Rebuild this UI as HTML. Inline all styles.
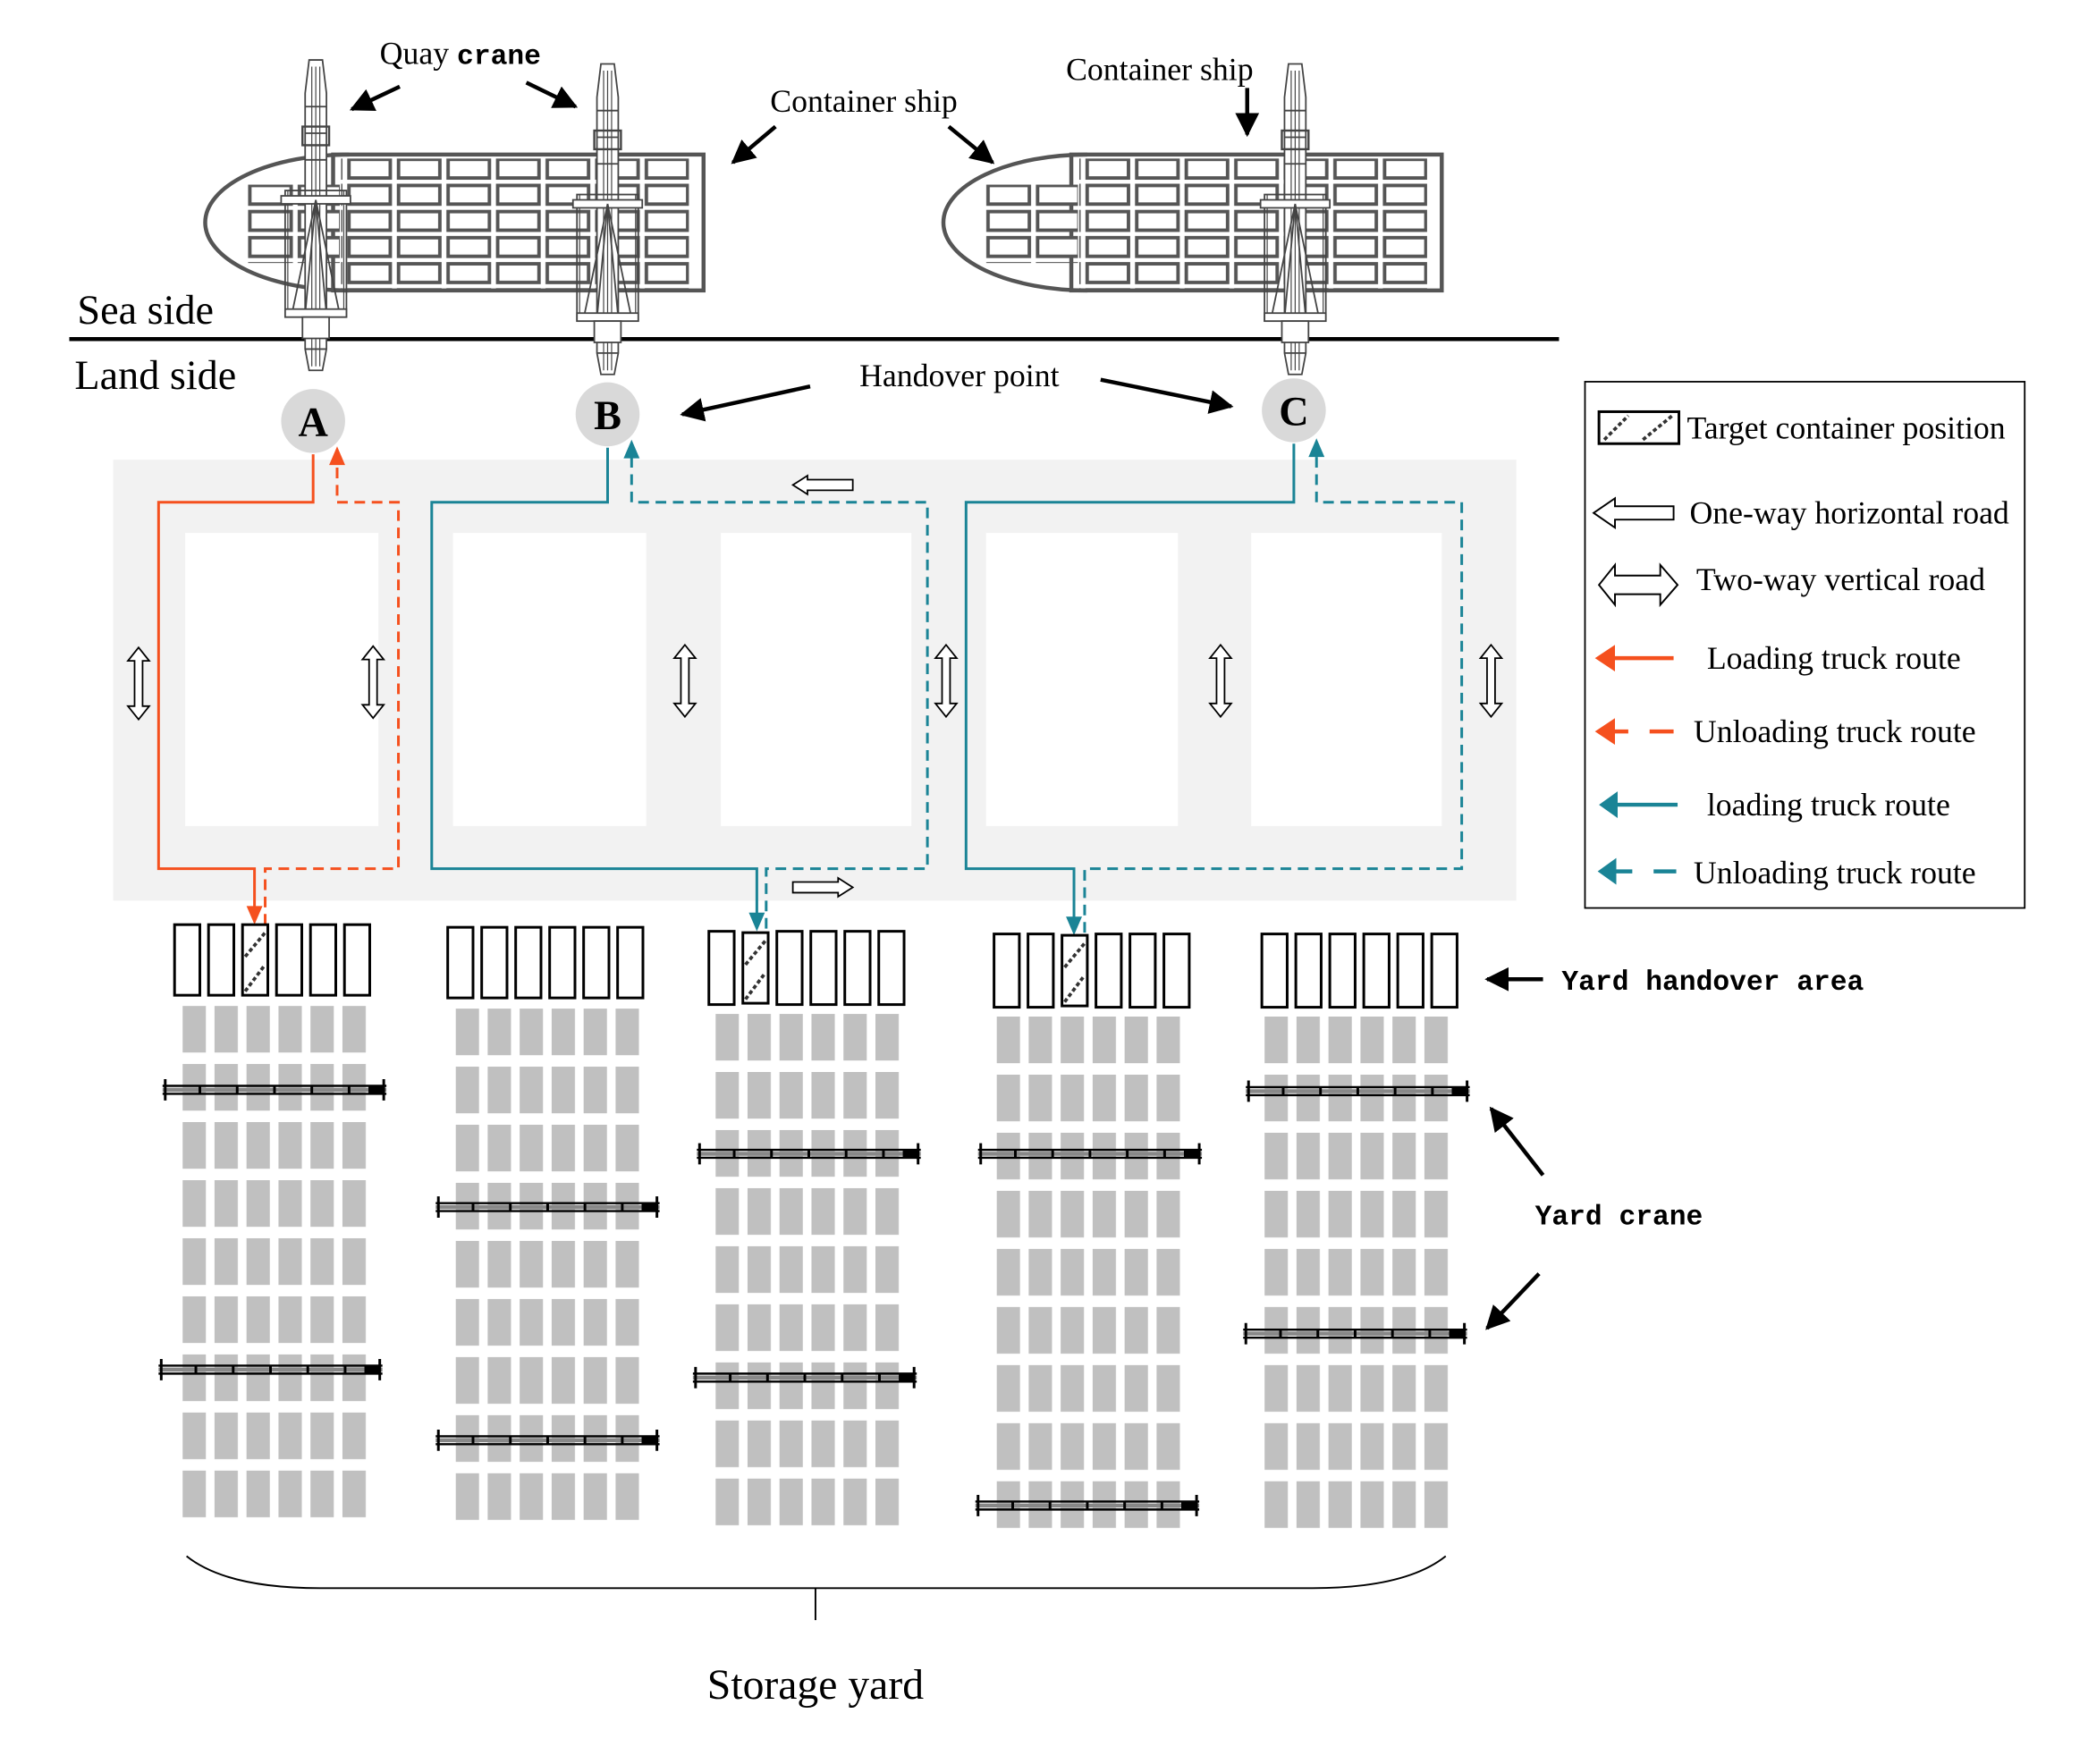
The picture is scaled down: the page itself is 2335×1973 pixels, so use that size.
<!DOCTYPE html>
<html><head><meta charset="utf-8"><style>html,body{margin:0;padding:0;background:#fff}svg{display:block}</style></head>
<body>
<svg width="2335" height="1973" viewBox="0 0 1567 1324" preserveAspectRatio="none" xmlns="http://www.w3.org/2000/svg" font-family="'Liberation Serif',serif">
<defs>
<pattern id="cont" x="0" y="0" width="37.2" height="19.6" patternUnits="userSpaceOnUse">
<rect x="1.5" y="2" width="31" height="14" fill="#fff" stroke="#555" stroke-width="2.6"/>
</pattern>
<pattern id="gray1" x="137" y="755" width="24" height="43.6" patternUnits="userSpaceOnUse"><rect x="0" y="0" width="17.5" height="35" fill="#c0c0c0"/></pattern>
<pattern id="gray2" x="342" y="757" width="24" height="43.6" patternUnits="userSpaceOnUse"><rect x="0" y="0" width="17.5" height="35" fill="#c0c0c0"/></pattern>
<pattern id="gray3" x="537" y="761" width="24" height="43.6" patternUnits="userSpaceOnUse"><rect x="0" y="0" width="17.5" height="35" fill="#c0c0c0"/></pattern>
<pattern id="gray4" x="748" y="763" width="24" height="43.6" patternUnits="userSpaceOnUse"><rect x="0" y="0" width="17.5" height="35" fill="#c0c0c0"/></pattern>
<pattern id="gray5" x="949" y="763" width="24" height="43.6" patternUnits="userSpaceOnUse"><rect x="0" y="0" width="17.5" height="35" fill="#c0c0c0"/></pattern>
<g id="crane" stroke="#444" fill="#fff" stroke-width="1.2">
<path d="M-5 45 L5 45 L8 70 L8 262 L5 278 L-5 278 L-8 262 L-8 70 Z"/>
<path d="M-3 50 V275 M0 50 V275 M3 50 V275" fill="none" stroke-width="0.8"/>
<path d="M-8 80 H8 M-8 100 H8 M-8 120 H8 M-8 262 H8" fill="none"/>
<rect x="-10" y="95" width="20" height="14" fill="none" stroke-width="1.6"/>
<rect x="-23" y="143" width="46" height="95" fill="none"/>
<rect x="-21" y="143" width="42" height="93" fill="none" stroke-width="0.8"/>
<rect x="-26" y="147" width="52" height="6"/>
<path d="M0 150 L-18 236 M0 150 L18 236 M0 150 L-8 236 M0 150 L8 236" fill="none"/>
<rect x="-23" y="232" width="46" height="6"/>
<rect x="-10" y="238" width="20" height="16"/>
</g>
<g id="ycrane" stroke="#000" fill="none">
<path d="M0 -3 H168 M0 3 H168" stroke-width="1.6"/>
<path d="M0 0 H168" stroke="#888" stroke-width="3"/>
<path d="M2 -8 V8 M166 -8 V8 M28 -3 V3 M56 -3 V3 M84 -3 V3 M112 -3 V3 M140 -3 V3" stroke-width="2"/>
<rect x="155" y="-3" width="10" height="6" fill="#000"/>
</g>
<g id="hatch"><rect x="0" y="0" width="19" height="53" fill="#fff" stroke="#000" stroke-width="2"/><path d="M2 24 L17 6 M2 50 L17 30" stroke="#333" stroke-width="2.5" stroke-dasharray="3 2"/></g>
<g id="vdbl" fill="#fff" stroke="#000" stroke-width="1.2"><path d="M0 -27 L8 -17 L3 -17 L3 17 L8 17 L0 27 L-8 17 L-3 17 L-3 -17 L-8 -17 Z"/></g>
<marker id="ah" viewBox="0 0 10 10" refX="9" refY="5" markerWidth="6" markerHeight="6" orient="auto"><path d="M0 0 L10 5 L0 10 Z" fill="#000"/></marker>
</defs>

<line x1="52" y1="254.5" x2="1170" y2="254.5" stroke="#000" stroke-width="3"/>
<text x="58" y="243" font-size="31">Sea side</text>
<text x="56" y="292" font-size="31">Land side</text>

<path d="M262 116 A108 51 0 0 0 262 218" fill="none" stroke="#555" stroke-width="3"/>
<rect x="250" y="116" width="278" height="102" fill="none" stroke="#555" stroke-width="3"/>
<rect x="256" y="119" width="261" height="98" fill="url(#cont)"/>
<rect x="185" y="138.6" width="70" height="58.8" fill="url(#cont)"/>
<path d="M816 116 A108 51 0 0 0 816 218" fill="none" stroke="#555" stroke-width="3"/>
<rect x="804" y="116" width="278" height="102" fill="none" stroke="#555" stroke-width="3"/>
<g transform="translate(554,0)"><rect x="256" y="119" width="261" height="98" fill="url(#cont)"/><rect x="185" y="138.6" width="70" height="58.8" fill="url(#cont)"/></g>

<use href="#crane" x="237" y="0"/>
<use href="#crane" x="456" y="3"/>
<use href="#crane" x="972" y="3"/>

<text x="285" y="48" font-size="24">Quay <tspan font-family="'Liberation Mono',monospace" font-weight="bold" font-size="21">crane</tspan></text>
<g stroke="#000" stroke-width="3" marker-end="url(#ah)">
<line x1="300" y1="65" x2="264" y2="82"/>
<line x1="395" y1="62" x2="432" y2="80"/>
<line x1="582" y1="95" x2="550" y2="122"/>
<line x1="712" y1="95" x2="745" y2="122"/>
<line x1="936" y1="66" x2="936" y2="101"/>
<line x1="608" y1="290" x2="512" y2="311"/>
<line x1="826" y1="285" x2="924" y2="305"/>
<line x1="1158" y1="735" x2="1116" y2="735"/>
<line x1="1158" y1="882" x2="1119" y2="832"/>
<line x1="1155" y1="956" x2="1116" y2="997"/>
</g>
<text x="578" y="84" font-size="24">Container ship</text>
<text x="800" y="60" font-size="24">Container ship</text>
<text x="645" y="290" font-size="24">Handover point</text>

<rect x="85" y="345" width="1053" height="331" fill="#f2f2f2"/>
<g fill="#fff">
<rect x="139" y="400" width="145" height="220"/>
<rect x="340" y="400" width="145" height="220"/>
<rect x="541" y="400" width="143" height="220"/>
<rect x="740" y="400" width="144" height="220"/>
<rect x="939" y="400" width="143" height="220"/>
</g>

<g fill="#d9d9d9"><circle cx="235" cy="316" r="24"/><circle cx="456" cy="311" r="24"/><circle cx="971" cy="308" r="24"/></g>
<g font-size="31" font-weight="bold" text-anchor="middle"><text x="235" y="327">A</text><text x="456" y="322">B</text><text x="971" y="319">C</text></g>

<g fill="none" stroke-width="2">
<path d="M235 341 V377 H119 V652 H191 V684" stroke="#f5501e"/>
<path d="M199 694 V652 H299 V377 H253 V346" stroke="#f5501e" stroke-dasharray="8 5"/>
<path d="M456 336 V377 H324 V652 H568 V688" stroke="#1a8496"/>
<path d="M575 697 V652 H696 V377 H474 V341" stroke="#1a8496" stroke-dasharray="8 5"/>
<path d="M971 333 V377 H725 V652 H806 V691" stroke="#1a8496"/>
<path d="M814 700 V652 H1097 V377 H988 V340" stroke="#1a8496" stroke-dasharray="8 5"/>
</g>
<g>
<path d="M185 680 L197 680 L191 694 Z" fill="#f5501e"/>
<path d="M247 349 L259 349 L253 335 Z" fill="#f5501e"/>
<path d="M562 685 L574 685 L568 699 Z" fill="#1a8496"/>
<path d="M468 344 L480 344 L474 330 Z" fill="#1a8496"/>
<path d="M800 688 L812 688 L806 702 Z" fill="#1a8496"/>
<path d="M982 343 L994 343 L988 329 Z" fill="#1a8496"/>
</g>

<use href="#vdbl" x="104" y="513"/><use href="#vdbl" x="280" y="512"/><use href="#vdbl" x="514" y="511"/>
<use href="#vdbl" x="710" y="511"/><use href="#vdbl" x="916" y="511"/><use href="#vdbl" x="1119" y="511"/>
<path d="M595 364 L606 357 L606 360 L640 360 L640 368 L606 368 L606 371 Z" fill="#fff" stroke="#000" stroke-width="1.2"/>
<path d="M640 666 L629 659 L629 662 L595 662 L595 670 L629 670 L629 673 Z" fill="#fff" stroke="#000" stroke-width="1.2"/>

<g fill="#fff" stroke="#000" stroke-width="2">
<rect x="131" y="694" width="19" height="53"/><rect x="156.5" y="694" width="19" height="53"/><rect x="207.5" y="694" width="19" height="53"/><rect x="233" y="694" width="19" height="53"/><rect x="258.5" y="694" width="19" height="53"/>
<rect x="336" y="696" width="19" height="53"/><rect x="361.5" y="696" width="19" height="53"/><rect x="387" y="696" width="19" height="53"/><rect x="412.5" y="696" width="19" height="53"/><rect x="438" y="696" width="19" height="53"/><rect x="463.5" y="696" width="19" height="53"/>
<rect x="532" y="699" width="19" height="55"/><rect x="583" y="699" width="19" height="55"/><rect x="608.5" y="699" width="19" height="55"/><rect x="634" y="699" width="19" height="55"/><rect x="659.5" y="699" width="19" height="55"/>
<rect x="746" y="701" width="19" height="55"/><rect x="771.5" y="701" width="19" height="55"/><rect x="822.5" y="701" width="19" height="55"/><rect x="848" y="701" width="19" height="55"/><rect x="873.5" y="701" width="19" height="55"/>
<rect x="947" y="701" width="19" height="55"/><rect x="972.5" y="701" width="19" height="55"/><rect x="998" y="701" width="19" height="55"/><rect x="1023.5" y="701" width="19" height="55"/><rect x="1049" y="701" width="19" height="55"/><rect x="1074.5" y="701" width="19" height="55"/>
</g>
<use href="#hatch" x="182" y="694"/>
<use href="#hatch" x="557.5" y="700"/>
<use href="#hatch" x="797" y="702"/>

<rect x="137" y="755" width="143" height="385" fill="url(#gray1)"/>
<rect x="342" y="757" width="143" height="385" fill="url(#gray2)"/>
<rect x="537" y="761" width="143" height="385" fill="url(#gray3)"/>
<rect x="748" y="763" width="143" height="385" fill="url(#gray4)"/>
<rect x="949" y="763" width="143" height="385" fill="url(#gray5)"/>

<use href="#ycrane" x="122" y="818"/><use href="#ycrane" x="119" y="1028"/>
<use href="#ycrane" x="327" y="906"/><use href="#ycrane" x="327" y="1081"/>
<use href="#ycrane" x="523" y="866"/><use href="#ycrane" x="520" y="1034"/>
<use href="#ycrane" x="734" y="866"/><use href="#ycrane" x="732" y="1130"/>
<use href="#ycrane" x="935" y="819"/><use href="#ycrane" x="933" y="1001"/>

<g font-family="'Liberation Mono',monospace" font-weight="bold" font-size="21">
<text x="1172" y="743">Yard handover area</text>
<text x="1152" y="919">Yard crane</text>
</g>

<path d="M140 1168 Q170 1192 240 1192 L985 1192 Q1055 1192 1085 1168" fill="none" stroke="#000" stroke-width="1.3"/>
<line x1="612" y1="1192" x2="612" y2="1216" stroke="#000" stroke-width="1.3"/>
<text x="612" y="1275" font-size="32" text-anchor="middle">Storage yard</text>

<rect x="1189.5" y="286.5" width="330" height="395" fill="#fff" stroke="#000" stroke-width="1.2"/>
<rect x="1200" y="309" width="60" height="24" fill="#fff" stroke="#000" stroke-width="2"/>
<path d="M1204 330 L1222 312 M1233 330 L1255 312" stroke="#333" stroke-width="2.5" stroke-dasharray="3 2"/>
<text x="1266" y="329" font-size="24">Target container position</text>
<path d="M1196 385 L1212 374 L1212 380 L1256 380 L1256 390 L1212 390 L1212 396 Z" fill="#fff" stroke="#000" stroke-width="1.3"/>
<text x="1268" y="393" font-size="24">One-way horizontal road</text>
<path d="M1200 439 L1212 424 L1212 432 L1246 432 L1246 424 L1259 439 L1246 454 L1246 446 L1212 446 L1212 454 Z" fill="#fff" stroke="#000" stroke-width="1.3"/>
<text x="1273" y="443" font-size="24">Two-way vertical road</text>
<line x1="1210" y1="494" x2="1256" y2="494" stroke="#f5501e" stroke-width="3"/>
<path d="M1197 494 L1212 484 L1212 504 Z" fill="#f5501e"/>
<text x="1281" y="502" font-size="24">Loading truck route</text>
<path d="M1210 549 H1222 M1238 549 H1256" stroke="#f5501e" stroke-width="3"/>
<path d="M1197 549 L1212 539 L1212 559 Z" fill="#f5501e"/>
<text x="1271" y="557" font-size="24">Unloading truck route</text>
<line x1="1212" y1="604" x2="1259" y2="604" stroke="#1a8496" stroke-width="3"/>
<path d="M1200 604 L1214 594 L1214 614 Z" fill="#1a8496"/>
<text x="1281" y="612" font-size="24">loading truck route</text>
<path d="M1212 654 H1225 M1241 654 H1258" stroke="#1a8496" stroke-width="3"/>
<path d="M1199 654 L1213 644 L1213 664 Z" fill="#1a8496"/>
<text x="1271" y="663" font-size="24">Unloading truck route</text>
</svg>
</body></html>
